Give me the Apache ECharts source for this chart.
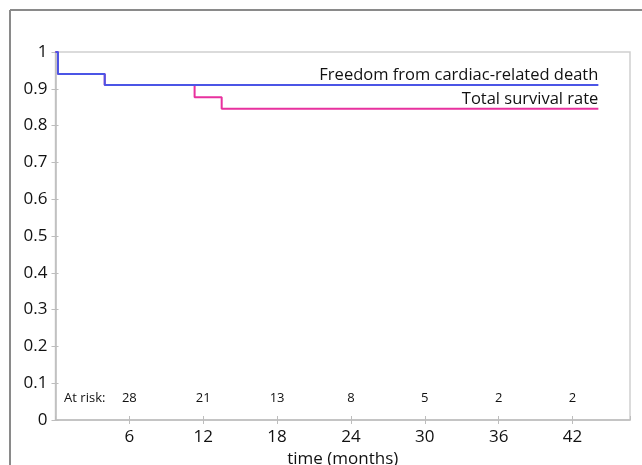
<!DOCTYPE html>
<html><head><meta charset="utf-8">
<script src="https://cdn.jsdelivr.net/npm/echarts@6/dist/echarts.min.js"></script>
<style>html,body{margin:0;padding:0;background:#fff}#c{width:642px;height:465px}</style>
</head><body><div id="c"></div>
<script>
// Kaplan-Meier step points [month, survival]
const freedomTimes = [0, 0.2, 4.0, 44.1];
const freedomVals  = [1, 0.94, 0.91, 0.91];
const totalTimes   = [0, 0.2, 4.0, 11.3, 13.5, 44.1];
const totalVals    = [1, 0.94, 0.91, 0.877, 0.846, 0.846];
const atRiskMonths = [6, 12, 18, 24, 30, 36, 42];
const atRiskCounts = [28, 21, 13, 8, 5, 2, 2];
const seriesNames  = ['Freedom from cardiac-related death', 'Total survival rate'];
const xTitle = 'time (months)';
const atRiskTitle = 'At risk:';

const FONT = '"Open Sans", "Noto Sans", sans-serif';
const toPts = (t, v) => t.map((x, i) => [x, v[i]]);
const endLabel = (t, v, name) => ({
  type: 'scatter', symbolSize: 0, silent: true, z: 5, itemStyle: {opacity: 1},
  data: [[t[t.length - 1], v[v.length - 1]]],
  label: {show: true, formatter: name, position: 'top', align: 'right', distance: 1,
    fontFamily: FONT, fontSize: 16.5, color: '#111'}
});
const chart = echarts.init(document.getElementById('c'), null, {renderer: 'canvas'});
chart.setOption({
  animation: false,
  backgroundColor: '#fff',
  graphic: [
    {type: 'line', shape: {x1: 10, y1: 10, x2: 642, y2: 10}, style: {stroke: '#8a8a8a', lineWidth: 2}},
    {type: 'line', shape: {x1: 10, y1: 10, x2: 10, y2: 465}, style: {stroke: '#8a8a8a', lineWidth: 2}}
  ],
  grid: {left: 55.5, top: 52, width: 574.5, height: 368, containLabel: false, outerBoundsMode: 'none',
    show: true, borderColor: '#cfcfcf', borderWidth: 1.5},
  xAxis: [{
    type: 'value', min: 0, max: 46.67, interval: 6,
    name: xTitle, nameLocation: 'middle', nameGap: 27,
    nameTextStyle: {fontFamily: FONT, fontSize: 17, color: '#111'},
    axisLine: {lineStyle: {color: '#bdbdbd', width: 1.5}},
    axisTick: {length: 4, lineStyle: {color: '#bdbdbd'}},
    axisLabel: {showMinLabel: false, showMaxLabel: false, margin: 9, fontFamily: FONT, fontSize: 17, color: '#111'},
    splitLine: {show: false}
  }, {
    type: 'value', min: 0, max: 46.67, interval: 6, position: 'bottom',
    axisLine: {show: false}, axisLabel: {show: false}, splitLine: {show: false},
    axisTick: {inside: true, length: 4, lineStyle: {color: '#bdbdbd'}}
  }],
  yAxis: [{
    type: 'value', min: 0, max: 1, interval: 0.1,
    axisLine: {show: true, lineStyle: {color: '#bdbdbd', width: 1.5}},
    axisTick: {show: true, length: 4, lineStyle: {color: '#bdbdbd'}},
    axisLabel: {margin: 8, fontFamily: FONT, fontSize: 17, color: '#111',
      formatter: v => (v === 0 || v === 1) ? String(v) : v.toFixed(1)},
    splitLine: {show: false}
  }, {
    type: 'value', min: 0, max: 1, interval: 0.1, position: 'left',
    axisLine: {show: false}, axisLabel: {show: false}, splitLine: {show: false},
    axisTick: {show: true, inside: true, length: 3, lineStyle: {color: '#bdbdbd'}}
  }],
  series: [
    {type: 'line', name: seriesNames[1], step: 'end', showSymbol: false, symbol: 'none',
      data: toPts(totalTimes, totalVals),
      lineStyle: {color: '#e8319e', width: 2}, z: 2},
    {type: 'line', name: seriesNames[0], step: 'end', showSymbol: false, symbol: 'none',
      data: toPts(freedomTimes, freedomVals),
      lineStyle: {color: '#4b55e6', width: 2}, z: 3},
    endLabel(freedomTimes, freedomVals, seriesNames[0]),
    endLabel(totalTimes, totalVals, seriesNames[1]),
    {type: 'scatter', symbolSize: 0, silent: true, itemStyle: {opacity: 1},
      data: atRiskMonths.map((m, i) => [m, 0.058, atRiskCounts[i]]),
      label: {show: true, position: 'inside', formatter: p => String(p.data[2]),
        fontFamily: FONT, fontSize: 13, color: '#111'}},
    {type: 'scatter', symbolSize: 0, silent: true, itemStyle: {opacity: 1},
      data: [[0.7, 0.058]],
      label: {show: true, position: 'inside', align: 'left', formatter: atRiskTitle,
        fontFamily: FONT, fontSize: 13, color: '#111'}}
  ]
});
</script></body></html>
